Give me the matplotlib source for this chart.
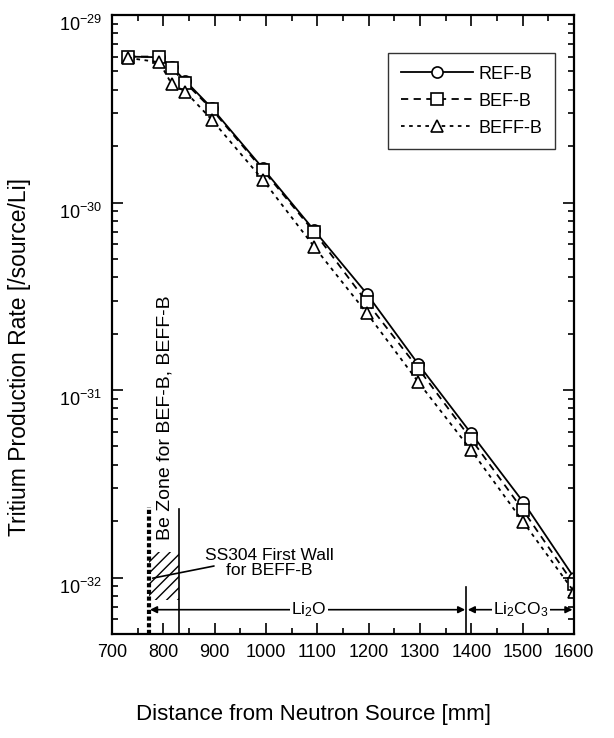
import matplotlib
matplotlib.use("Agg")
import matplotlib.pyplot as plt
from matplotlib.ticker import MultipleLocator, LogLocator, NullFormatter, FixedLocator
from matplotlib.patches import Rectangle
from matplotlib.transforms import ScaledTranslation

plt.rcParams['font.family'] = ['Liberation Sans', 'DejaVu Sans']
plt.rcParams['mathtext.fontset'] = 'custom'
plt.rcParams['mathtext.rm'] = 'Liberation Sans'
plt.rcParams['mathtext.it'] = 'Liberation Sans'

# distance from neutron source [mm]
distance = [732, 792, 816, 843, 894, 994, 1094, 1196, 1297, 1399, 1501, 1600]
# tritium production rate [/source/Li]
ref_b = [6.0e-30, 5.95e-30, 5.3e-30, 4.45e-30, 3.2e-30, 1.52e-30, 7.1e-31,
         3.27e-31, 1.37e-31, 5.9e-32, 2.53e-32, 1.0e-32]
bef_b = [6.0e-30, 6.0e-30, 5.2e-30, 4.35e-30, 3.15e-30, 1.49e-30, 6.95e-31,
         2.95e-31, 1.3e-31, 5.5e-32, 2.28e-32, 9.2e-33]
beff_b = [5.9e-30, 5.6e-30, 4.3e-30, 3.9e-30, 2.77e-30, 1.32e-30, 5.8e-31,
          2.58e-31, 1.1e-31, 4.8e-32, 1.98e-32, 8.4e-33]
y_major = [1e-32, 1e-31, 1e-30, 1e-29]

# zone boundaries [mm]
first_wall = 772
be_zone_end = 830
li2o_end = 1390
li2co3_end = 1600

fig = plt.figure(figsize=(6.14, 7.38), dpi=100)
ax = fig.add_axes([0.1824, 0.1409, 0.7525, 0.8388])

mk = dict(markerfacecolor='white', markeredgecolor='black', markeredgewidth=1.2, color='black')
ax.plot(distance, ref_b, '-', marker='o', ms=8, lw=1.3, label='REF-B', **mk)
ax.plot(distance, bef_b, linestyle=(0, (4, 3)), marker='s', ms=8, lw=1.3, label='BEF-B', **mk)
ax.plot(distance, beff_b, linestyle=(0, (2, 2.5)), marker='^', ms=8, lw=1.3, label='BEFF-B', **mk)

ax.set_yscale('log')
ax.set_xlim(700, 1600)
ax.set_ylim(5e-33, 1e-29)

# zone drawings
ax.plot([first_wall, first_wall], [5e-33, 2.37e-32], color='black', lw=3, linestyle=(0, (1, 0.6)))
ax.plot([be_zone_end, be_zone_end], [5e-33, 2.31e-32], color='black', lw=1.2)
ax.add_patch(Rectangle((first_wall, 7.55e-33), be_zone_end - first_wall, 1.37e-32 - 7.55e-33,
                       facecolor='none', edgecolor='black', hatch='///', lw=0))
ax.plot([li2o_end, li2o_end], [5e-33, 8.9e-33], color='black', lw=1.2)

ax.text(804, 1.58e-32, 'Be Zone for BEF-B, BEFF-B', rotation=90, ha='center', va='bottom',
        fontsize=14)
ax.text(1006, 1.2e-32, 'SS304 First Wall\nfor BEFF-B', ha='center', va='center',
        fontsize=12.5, linespacing=1.0)
ax.annotate('', xy=(774, 9.86e-33), xytext=(904, 1.16e-32),
            arrowprops=dict(arrowstyle='-', color='black', lw=1.2))

y_arrow = 6.74e-33
ax.annotate('', xy=(first_wall + 2, y_arrow), xytext=(li2o_end - 2, y_arrow),
            arrowprops=dict(arrowstyle='<|-|>', color='black', lw=1.2,
                            mutation_scale=10, shrinkA=0, shrinkB=0))
ax.text(1084, y_arrow, 'Li$_2$O', ha='center', va='center', fontsize=12.5,
        bbox=dict(facecolor='white', edgecolor='none', pad=1))
ax.annotate('', xy=(li2o_end + 3, y_arrow), xytext=(li2co3_end - 3, y_arrow),
            arrowprops=dict(arrowstyle='<|-|>', color='black', lw=1.2,
                            mutation_scale=10, shrinkA=0, shrinkB=0))
ax.text(1497, y_arrow, 'Li$_2$CO$_3$', ha='center', va='center', fontsize=12.5,
        bbox=dict(facecolor='white', edgecolor='none', pad=1))

# axes styling
ax.xaxis.set_major_locator(MultipleLocator(100))
ax.xaxis.set_minor_locator(MultipleLocator(50))
ax.yaxis.set_major_locator(FixedLocator(y_major))
ax.yaxis.set_minor_locator(LogLocator(base=10, subs=range(2, 10), numticks=20))
ax.yaxis.set_minor_formatter(NullFormatter())
ax.tick_params(which='both', direction='in', top=True, right=True, width=1.2)
ax.tick_params(which='major', length=8, labelsize=13, pad=7)
ax.tick_params(which='minor', length=4)
for s in ax.spines.values():
    s.set_linewidth(1.6)

ax.set_xlabel('Distance from Neutron Source [mm]', fontsize=16)
ax.xaxis.set_label_coords(0.437, -0.113)
ax.set_ylabel('Tritium Production Rate [/source/Li]', fontsize=16.5)
ax.yaxis.set_label_coords(-0.175, 0.447)

leg = ax.legend(loc='upper left', bbox_to_anchor=(0.578, 0.953), fontsize=13,
                handlelength=4.0, frameon=True, fancybox=False, borderpad=0.7,
                labelspacing=0.55, handletextpad=0.3)
leg.get_frame().set_edgecolor('black')
leg.get_frame().set_linewidth(1.0)

# y tick labels sit a little below their ticks in the original
fig.canvas.draw()
shift = ScaledTranslation(0, -6 / 72, fig.dpi_scale_trans)
for tick in ax.yaxis.get_major_ticks():
    tick.label1.set_transform(tick.label1.get_transform() + shift)

fig.savefig('out.png', dpi=100)
